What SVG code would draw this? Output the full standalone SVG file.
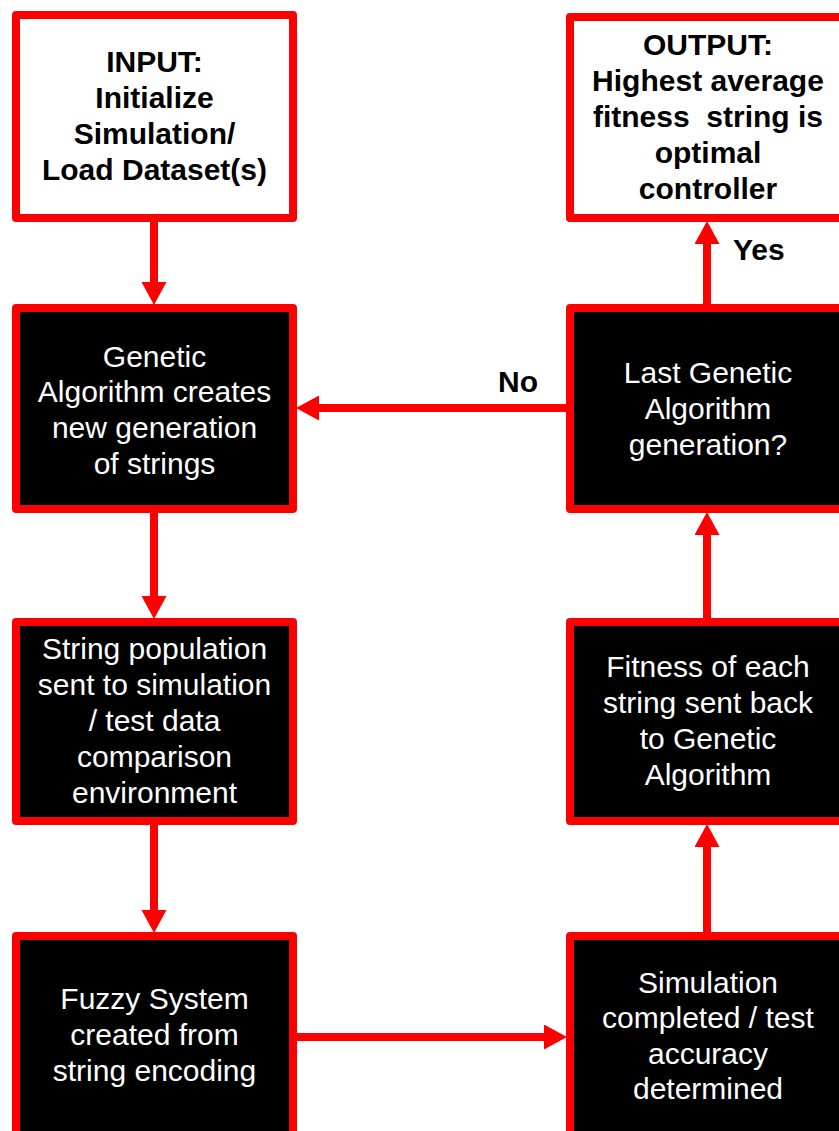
<svg xmlns="http://www.w3.org/2000/svg" width="839" height="1131" viewBox="0 0 839 1131">
  <style>
    .box { stroke: #FF0000; stroke-width: 8; stroke-linejoin: round; }
    .io { fill: #FFFFFF; }
    .step { fill: #000000; }
    .lbl { font-family: "Liberation Sans", Arial, sans-serif; font-size: 30px; text-anchor: middle; }
    .io-t { fill: #000000; font-weight: bold; }
    .step-t { fill: #FFFFFF; }
    .edge { stroke: #FF0000; stroke-width: 8; fill: none; marker-end: url(#head); }
    .tag { font-family: "Liberation Sans", Arial, sans-serif; font-size: 30px; font-weight: bold; fill: #000000; }
  </style>
  <defs>
    <marker id="head" markerUnits="userSpaceOnUse" markerWidth="24" markerHeight="26" viewBox="0 0 24 26" refX="10" refY="12.5" orient="auto">
      <path d="M0,0 L23,12.5 L0,25 Z" fill="#FF0000"/>
    </marker>
  </defs>

  <rect width="839" height="1131" fill="#FFFFFF"/>

  <!-- flow connectors -->
  <g id="connectors">
    <line class="edge" x1="154" y1="222" x2="154" y2="292"/>
    <line class="edge" x1="154" y1="513" x2="154" y2="606"/>
    <line class="edge" x1="154" y1="825" x2="154" y2="920"/>
    <line class="edge" x1="297" y1="1037" x2="554" y2="1037"/>
    <line class="edge" x1="707" y1="932" x2="707" y2="837"/>
    <line class="edge" x1="707" y1="618" x2="707" y2="525"/>
    <line class="edge" x1="707" y1="304" x2="707" y2="234"/>
    <line class="edge" x1="566" y1="408" x2="309" y2="408"/>
    <text class="tag" x="733" y="260">Yes</text>
    <text class="tag" x="498" y="392">No</text>
  </g>

  <g id="input">
    <rect class="box io" x="16" y="15" width="277" height="203"/>
    <text class="lbl io-t" x="154.5" y="72">INPUT:</text>
    <text class="lbl io-t" x="154.5" y="108">Initialize</text>
    <text class="lbl io-t" x="154.5" y="144">Simulation/</text>
    <text class="lbl io-t" x="154.5" y="180">Load Dataset(s)</text>
  </g>

  <g id="ga-generate">
    <rect class="box step" x="16" y="308" width="277" height="201"/>
    <text class="lbl step-t" x="154.5" y="367">Genetic</text>
    <text class="lbl step-t" x="154.5" y="402">Algorithm creates</text>
    <text class="lbl step-t" x="154.5" y="438">new generation</text>
    <text class="lbl step-t" x="154.5" y="474">of strings</text>
  </g>

  <g id="population">
    <rect class="box step" x="16" y="622" width="277" height="199"/>
    <text class="lbl step-t" x="154.5" y="659">String population</text>
    <text class="lbl step-t" x="154.5" y="695">sent to simulation</text>
    <text class="lbl step-t" x="154.5" y="731">/ test data</text>
    <text class="lbl step-t" x="154.5" y="767">comparison</text>
    <text class="lbl step-t" x="154.5" y="803">environment</text>
  </g>

  <g id="fuzzy">
    <rect class="box step" x="16" y="936" width="277" height="210"/>
    <text class="lbl step-t" x="154.5" y="1009">Fuzzy System</text>
    <text class="lbl step-t" x="154.5" y="1045">created from</text>
    <text class="lbl step-t" x="154.5" y="1081">string encoding</text>
  </g>

  <g id="output">
    <rect class="box io" x="570" y="17" width="274" height="201"/>
    <text class="lbl io-t" x="708" y="55">OUTPUT:</text>
    <text class="lbl io-t" x="708" y="91">Highest average</text>
    <text class="lbl io-t" x="708" y="127" xml:space="preserve">fitness  string is</text>
    <text class="lbl io-t" x="708" y="163">optimal</text>
    <text class="lbl io-t" x="708" y="199">controller</text>
  </g>

  <g id="last-generation">
    <rect class="box step" x="570" y="308" width="274" height="201"/>
    <text class="lbl step-t" x="708" y="383">Last Genetic</text>
    <text class="lbl step-t" x="708" y="419">Algorithm</text>
    <text class="lbl step-t" x="708" y="455">generation?</text>
  </g>

  <g id="fitness">
    <rect class="box step" x="570" y="622" width="274" height="199"/>
    <text class="lbl step-t" x="708" y="677">Fitness of each</text>
    <text class="lbl step-t" x="708" y="713">string sent back</text>
    <text class="lbl step-t" x="708" y="749">to Genetic</text>
    <text class="lbl step-t" x="708" y="785">Algorithm</text>
  </g>

  <g id="evaluation">
    <rect class="box step" x="570" y="936" width="274" height="210"/>
    <text class="lbl step-t" x="708" y="993">Simulation</text>
    <text class="lbl step-t" x="708" y="1028">completed / test</text>
    <text class="lbl step-t" x="708" y="1064">accuracy</text>
    <text class="lbl step-t" x="708" y="1099">determined</text>
  </g>
</svg>
